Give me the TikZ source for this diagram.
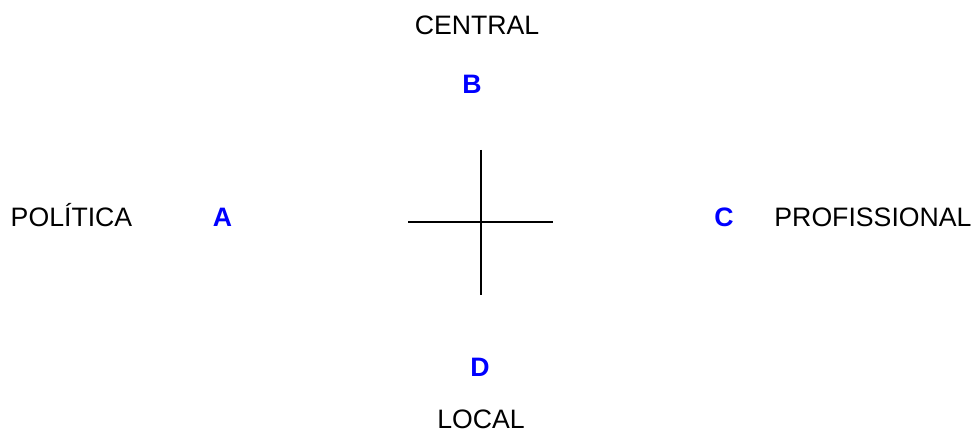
\documentclass[tikz,border=0pt]{standalone}
\usepackage{fontspec}
\setmainfont{Liberation Sans}
\definecolor{lblue}{RGB}{0,0,255}
\begin{document}
\begin{tikzpicture}[x=0.75pt,y=-0.75pt,
  lbl/.style={inner sep=0pt,anchor=base,font=\fontsize{20}{24}\selectfont},
  key/.style={lbl,text=lblue,font=\fontsize{20}{24}\selectfont\bfseries},
  axis/.style={line width=1.5pt,black}]
\useasboundingbox (0,0) rectangle (976,434);
\node[lbl] (central) at (477,35) {CENTRAL};
\node[key] (b) at (472,94) {B};
\node[lbl] (pol) at (71.5,227) {POLÍTICA};
\node[key] (a) at (222.5,227) {A};
\node[key] (c) at (724,227) {C};
\node[lbl] (prof) at (873,227) {PROFISSIONAL};
\node[key] (d) at (480,377) {D};
\node[lbl] (local) at (481,429) {LOCAL};
\coordinate (top) at (480.5,150);
\coordinate (bot) at (480.5,295);
\coordinate (left) at (408,222.5);
\coordinate (right) at (553,222.5);
\draw[axis] (top) -- (bot);
\draw[axis] (left) -- (right);
\end{tikzpicture}
\end{document}
